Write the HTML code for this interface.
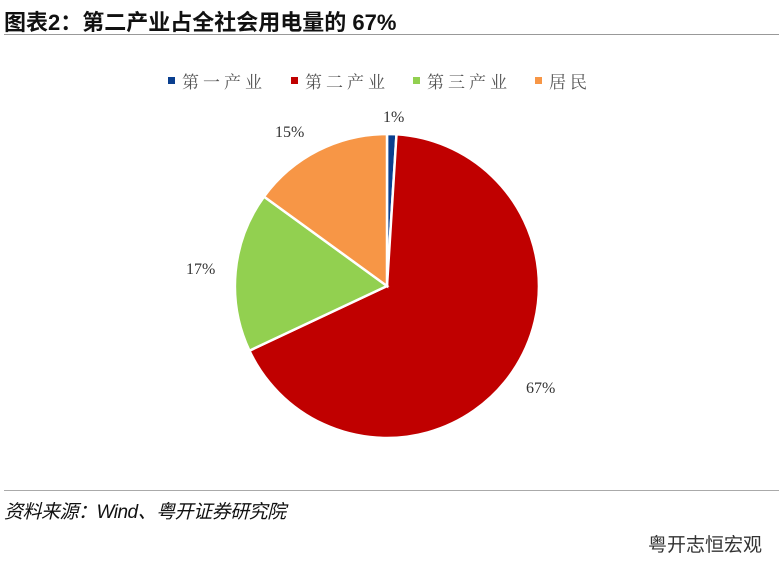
<!DOCTYPE html>
<html><head><meta charset="utf-8"><style>
body{margin:0;width:779px;height:575px;background:#fff;overflow:hidden;position:relative;font-family:"Liberation Sans","Noto Sans CJK SC",sans-serif}
.t{position:absolute;left:4px;top:5px;font-size:22px;font-weight:bold;color:#111}
.l1{position:absolute;left:4px;top:34px;width:775px;height:1px;background:#999}
.l2{position:absolute;left:4px;top:490px;width:775px;height:1px;background:#aaa}
.src{position:absolute;left:4px;top:497px;font-size:19px;font-style:italic;color:#111;letter-spacing:-0.5px}
.wm{position:absolute;left:648px;top:530px;font-size:19px;color:#333}
</style></head><body>
<div class="t">图表2：第二产业占全社会用电量的 67%</div>
<div class="l1"></div>
<svg width="779" height="575" style="position:absolute;left:0;top:0" font-family="Liberation Serif,'Noto Serif CJK SC',serif">
<g font-size="17" fill="#555" letter-spacing="4">
<rect x="168" y="77" width="7" height="7" fill="#0a3f8f"/><text x="182" y="88">第一产业</text>
<rect x="291" y="77" width="7" height="7" fill="#c00000"/><text x="305" y="88">第二产业</text>
<rect x="413" y="77" width="7" height="7" fill="#92d050"/><text x="427" y="88">第三产业</text>
<rect x="535" y="77" width="7" height="7" fill="#f79646"/><text x="549" y="88">居民</text>
</g>
<g stroke="#fff" stroke-width="2.5">
<path d="M387,286 L387,134 A152,152 0 0 1 396.5,134.3 Z" fill="#0a3f8f"/>
<path d="M387,286 L396.5,134.3 A152,152 0 1 1 249.4,350.7 Z" fill="#c00000"/>
<path d="M387,286 L249.4,350.7 A152,152 0 0 1 264,196.6 Z" fill="#92d050"/>
<path d="M387,286 L264,196.6 A152,152 0 0 1 387,134 Z" fill="#f79646"/>
</g>
<g font-size="16" fill="#333">
<text x="383" y="122">1%</text>
<text x="275" y="137">15%</text>
<text x="186" y="274">17%</text>
<text x="526" y="393">67%</text>
</g>
</svg>
<div class="l2"></div>
<div class="src">资料来源：Wind、粤开证券研究院</div>
<div class="wm">粤开志恒宏观</div>
</body></html>
